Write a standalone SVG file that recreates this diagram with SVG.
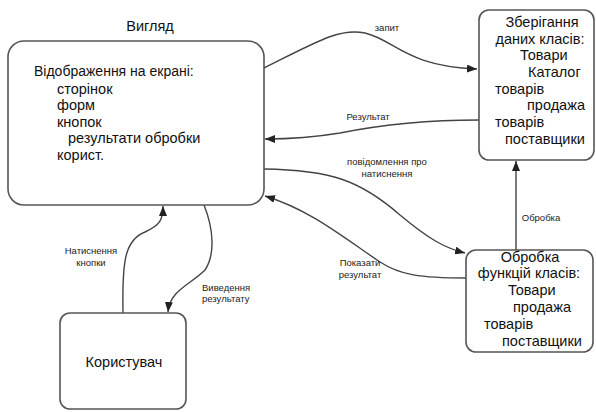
<svg xmlns="http://www.w3.org/2000/svg" width="596" height="412" viewBox="0 0 596 412">
<defs>
<marker id="ah" viewBox="0 0 10 8" refX="10" refY="4" markerWidth="10" markerHeight="8" markerUnits="userSpaceOnUse" orient="auto">
<path d="M0,0 L10,4 L0,8 z" fill="#222"/>
</marker>
<style>
.box{fill:#fff;stroke:#555;stroke-width:1.6}
.t{font-family:"Liberation Sans",Arial,sans-serif;font-size:14.5px;fill:#111}
.lb{font-family:"Liberation Sans",Arial,sans-serif;font-size:9.5px;fill:#222}
.c{fill:none;stroke:#444;stroke-width:1.4}
</style>
</defs>
<rect width="596" height="412" fill="#fff"/>
<g id="connectors">
<path class="c" d="M264,68 C320,40 340,28 365,33 C395,40 405,66 477,69" marker-end="url(#ah)"/>
<path class="c" d="M479,120 C420,120 380,125 340,133 C310,138 290,139 265,139" marker-end="url(#ah)"/>
<path class="c" d="M264,169 C330,170 360,180 400,215 C430,240 445,248 465,253" marker-end="url(#ah)"/>
<path class="c" d="M466,278 C420,278 400,275 380,262 C340,235 310,210 265,196" marker-end="url(#ah)"/>
<path class="c" d="M516,250 L516,161" marker-end="url(#ah)"/>
<path class="c" d="M123,313 C122,260 125,240 145,232 C160,225 163,220 163,206" marker-end="url(#ah)"/>
<path class="c" d="M204,205 C214,230 215,255 205,270 C190,285 170,290 168,312" marker-end="url(#ah)"/>
<text class="lb" x="387" y="31" text-anchor="middle">запит</text>
<text class="lb" x="368" y="120" text-anchor="middle">Результат</text>
<text class="lb" x="387" y="165" text-anchor="middle">повідомлення про</text>
<text class="lb" x="387" y="177" text-anchor="middle">натиснення</text>
<text class="lb" x="360" y="266" text-anchor="middle">Показати</text>
<text class="lb" x="360" y="278" text-anchor="middle">результат</text>
<text class="lb" x="541" y="221" text-anchor="middle">Обробка</text>
<text class="lb" x="91" y="254" text-anchor="middle">Натиснення</text>
<text class="lb" x="91" y="266" text-anchor="middle">кнопки</text>
<text class="lb" x="202" y="291">Виведення</text>
<text class="lb" x="202" y="302">результату</text>
</g>
<g id="view">
<text class="t" x="150" y="31" text-anchor="middle">Вигляд</text>
<rect class="box" x="8" y="41" width="256" height="164" rx="16"/>
<text class="t" x="34" y="76" style="font-size:14px">Відображення на екрані:</text>
<text class="t" x="57" y="94">сторінок</text>
<text class="t" x="57" y="110">форм</text>
<text class="t" x="57" y="127">кнопок</text>
<text class="t" x="68" y="143">результати обробки</text>
<text class="t" x="57" y="160">корист.</text>
</g>
<g id="storage">
<rect class="box" x="479" y="10" width="115" height="150" rx="10"/>
<text class="t" x="542" y="27" text-anchor="middle">Зберігання</text>
<text class="t" x="540" y="44" text-anchor="middle">даних класів:</text>
<text class="t" x="520" y="60">Товари</text>
<text class="t" x="528" y="77">Каталог</text>
<text class="t" x="495" y="94">товарів</text>
<text class="t" x="527" y="110">продажа</text>
<text class="t" x="495" y="127">товарів</text>
<text class="t" x="505" y="144">поставщики</text>
</g>
<g id="processing">
<rect class="box" x="466" y="250" width="127" height="102" rx="10"/>
<text class="t" x="530" y="262" text-anchor="middle">Обробка</text>
<text class="t" x="529" y="278" text-anchor="middle">функцій класів:</text>
<text class="t" x="508" y="295">Товари</text>
<text class="t" x="513" y="312">продажа</text>
<text class="t" x="484" y="329">товарів</text>
<text class="t" x="502" y="346">поставщики</text>
</g>
<g id="user">
<rect class="box" x="60" y="313" width="126" height="96" rx="10"/>
<text class="t" x="124" y="367" text-anchor="middle">Користувач</text>
</g>
</svg>
